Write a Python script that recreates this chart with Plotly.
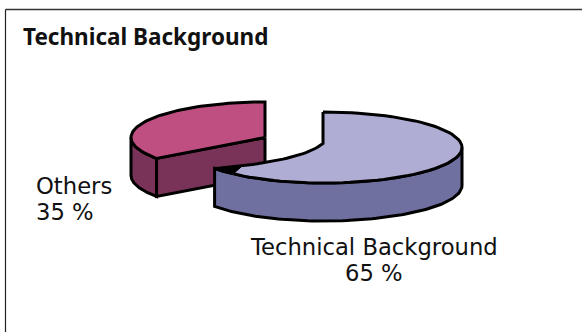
import numpy as np
import plotly.graph_objects as go

labels = ["Technical Background", "Others"]
values = [65, 35]
top_colors = ["#AFADD3", "#BF4F80"]
side_colors = ["#6F6FA0", "#7A3358"]
title = "Technical Background"

RX_RIGHT, RX_LEFT, RY, DEPTH = 139, 134, 35.5, 38
CENTERS = [(323, 147.5), (265, 137.5)]
frac = 360 * values[0] / sum(values)


def arc(cx, cy, a0, a1, dz=0, n=80):
    t = np.radians(np.linspace(a0, a1, n))
    sn = np.sin(t)
    return cx + np.where(sn < 0, RX_LEFT, RX_RIGHT) * sn, cy - RY * np.cos(t) + dz


def poly(fig, x, y, color, lw=3):
    fig.add_trace(go.Scatter(
        x=np.r_[x, x[0]], y=np.r_[y, y[0]], mode="lines", fill="toself",
        fillcolor=color, line=dict(color="black", width=lw),
        hoverinfo="skip", showlegend=False))


fig = go.Figure()

# Others slice: from the end of the first slice round to the top
cx, cy = CENTERS[1]
x0, y0 = arc(cx, cy, frac, 270)
x1, y1 = arc(cx, cy, frac, 270, DEPTH)
poly(fig, np.r_[x0, x1[::-1]], np.r_[y0, y1[::-1]], side_colors[1])
xe, ye = arc(cx, cy, frac, frac, n=1)
poly(fig, np.r_[cx, xe, xe, cx], np.r_[cy, ye, ye + DEPTH, cy + DEPTH], side_colors[1])
x, y = arc(cx, cy, frac, 360)
poly(fig, np.r_[cx, x], np.r_[cy, y], top_colors[1])

# Technical Background slice: from the top clockwise
cx, cy = CENTERS[0]
x0, y0 = arc(cx, cy, 90, frac)
x1, y1 = arc(cx, cy, 90, frac, DEPTH)
poly(fig, np.r_[x0, x1[::-1]], np.r_[y0, y1[::-1]], side_colors[0])
x, y = arc(cx, cy, 0, frac)
s = np.linspace(0, 1, 30)
ctrl_x, ctrl_y = cx - 22, cy + 14
ex = (1 - s) ** 2 * x[-1] + 2 * s * (1 - s) * ctrl_x + s ** 2 * cx
ey = (1 - s) ** 2 * y[-1] + 2 * s * (1 - s) * ctrl_y + s ** 2 * (cy - 4)
poly(fig, np.r_[x, ex], np.r_[y, ey], top_colors[0])
# heavy black tip where the outlines of the slice meet
xt, yt = arc(cx, cy, frac - 12, frac, n=12)
poly(fig, np.r_[xt, ex[:6]], np.r_[yt, ey[:6]], "black", lw=1)

annotations = [
    dict(x=21, y=36, text=f"<b>{title}</b>", font=dict(size=22.5, family="Noto Sans"), xanchor="left"),
    dict(x=34, y=186, text=labels[1], font=dict(size=22.7, family="DejaVu Sans"), xanchor="left"),
    dict(x=34, y=212, text=f"{values[1]} %", font=dict(size=22.7, family="DejaVu Sans"), xanchor="left"),
    dict(x=373.5, y=247, text=labels[0], font=dict(size=22.7, family="DejaVu Sans"), xanchor="center"),
    dict(x=373.5, y=273, text=f"{values[0]} %", font=dict(size=22.7, family="DejaVu Sans"), xanchor="center"),
]
for a in annotations:
    a.update(xref="x", yref="y", showarrow=False, yanchor="middle")
    a["font"].update(color="#111111")

fig.update_layout(
    width=582, height=332, margin=dict(l=0, r=0, t=0, b=0),
    paper_bgcolor="white", plot_bgcolor="white", annotations=annotations,
    xaxis=dict(range=[0, 582], visible=False, fixedrange=True),
    yaxis=dict(range=[332, 0], visible=False, fixedrange=True),
    shapes=[
        dict(type="line", xref="x", yref="y", x0=5.5, x1=582, y0=9.5, y1=9.5, line=dict(color="#333333", width=1.5)),
        dict(type="line", xref="x", yref="y", x0=5.5, x1=5.5, y0=9.5, y1=332, line=dict(color="#222222", width=1.2)),
    ],
)
fig.write_html("out.html", config={"displayModeBar": False},
               post_script="document.body.style.margin='0';document.documentElement.style.overflow='hidden';")
